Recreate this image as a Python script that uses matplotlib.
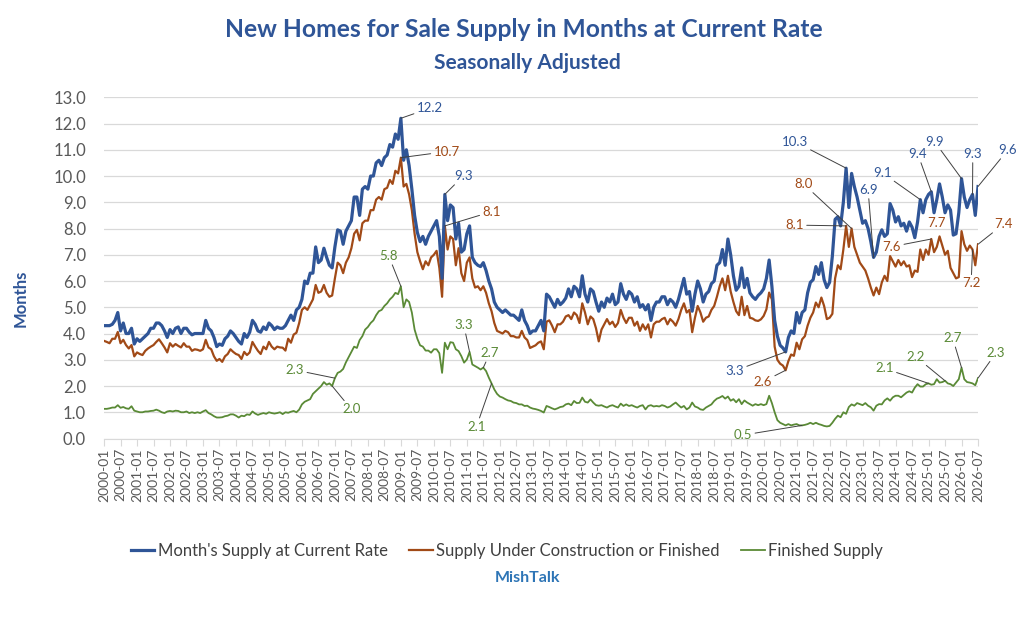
import matplotlib
matplotlib.use('Agg')
import matplotlib.pyplot as plt
import numpy as np
import pandas as pd

plt.rcParams['font.family'] = ['Lato', 'DejaVu Sans']

# monthly values, 2000-01 .. 2026-07 (one row per year)
supply_total = [
    4.3, 4.3, 4.3, 4.35, 4.5, 4.8, 4.1, 4.4, 4.0, 4.0, 4.2, 3.6,
    3.8, 3.7, 3.8, 3.9, 4.0, 4.2, 4.2, 4.4, 4.4, 4.3, 4.1, 3.85,
    4.15, 4.0, 4.2, 4.25, 4.0, 4.2, 4.2, 4.05, 3.95, 4.0, 4.0, 4.0,
    4.0, 4.5, 4.2, 4.1, 3.85, 3.5, 3.6, 3.55, 3.8, 3.9, 4.1, 4.0,
    3.85, 3.7, 3.6, 4.0, 3.85, 4.05, 4.5, 4.35, 4.1, 4.05, 4.25, 4.15,
    4.4, 4.3, 4.15, 4.25, 4.2, 4.2, 4.3, 4.5, 4.7, 4.5, 4.9, 5.0,
    5.3, 6.0, 5.9, 6.3, 6.3, 7.3, 6.7, 6.8, 7.25, 6.9, 6.6, 6.5,
    7.3, 7.95, 7.9, 7.4, 7.9, 8.1, 8.3, 9.2, 9.2, 8.5, 9.5, 9.6,
    9.5, 10.0, 10.0, 10.5, 10.6, 10.4, 10.7, 10.8, 11.2, 11.1, 11.6, 11.4,
    12.2, 10.6, 11.0, 10.4, 9.5, 8.5, 7.85, 7.5, 7.7, 7.4, 7.7, 7.9,
    8.1, 8.3, 7.7, 6.1, 9.3, 8.3, 8.9, 8.8, 7.6, 8.2, 7.1, 7.2,
    7.8, 8.1, 6.9, 6.7, 6.6, 6.55, 6.7, 6.4, 6.0, 5.7, 5.2, 5.0,
    4.9, 4.8, 4.9, 4.8, 4.7, 4.7, 4.6, 4.5, 4.9, 4.5, 4.3, 4.0,
    4.1, 4.1, 4.3, 4.5, 4.1, 5.5, 5.4, 5.2, 5.0, 5.3, 5.1, 5.2,
    5.35, 5.7, 5.4, 5.8, 5.7, 5.4, 6.2, 5.5, 5.2, 5.7, 5.6, 5.2,
    4.85, 5.2, 5.0, 5.35, 5.2, 5.5, 5.1, 5.2, 5.9, 5.5, 5.3, 5.6,
    5.5, 5.2, 5.4, 5.0, 5.1, 4.9, 5.1, 4.5, 5.0, 5.2, 5.2, 5.4,
    5.4, 5.1, 5.3, 5.2, 5.0, 5.3, 5.7, 6.1, 5.5, 5.6, 4.85, 5.5,
    6.0, 5.7, 5.2, 5.5, 5.6, 5.9, 6.0, 6.6, 6.7, 7.2, 6.6, 7.6,
    7.0, 6.2, 5.65, 5.8, 6.5, 5.75, 6.1, 5.55, 5.4, 5.3, 5.45, 5.55,
    5.7, 6.1, 6.8, 5.8, 4.5, 3.9, 3.55, 3.45, 3.3, 3.85, 4.1, 4.0,
    4.8, 4.4, 4.8, 4.9, 5.55, 5.95, 6.05, 6.55, 6.25, 6.7, 6.05, 5.75,
    5.95, 6.95, 8.35, 8.45, 8.1, 9.0, 10.3, 8.8, 10.1, 9.6, 9.2, 8.7,
    8.2, 8.3, 8.0, 7.5, 6.9, 7.1, 7.7, 7.95, 7.7, 7.8, 8.95, 8.7,
    8.25, 8.45, 8.1, 8.2, 7.9, 8.25, 8.05, 7.65, 8.25, 9.1, 8.6, 9.1,
    9.3, 9.4, 8.6, 9.1, 9.7, 9.2, 8.6, 8.9, 8.7, 7.75, 7.8, 8.6,
    9.9, 9.2, 8.8, 9.1, 9.3, 8.5, 9.6,
]

supply_uc_finished = [
    3.72, 3.68, 3.63, 3.8, 3.8, 4.06, 3.63, 3.76, 3.56, 3.43, 3.56, 3.13,
    3.28, 3.22, 3.18, 3.34, 3.43, 3.5, 3.56, 3.68, 3.78, 3.63, 3.47, 3.28,
    3.63, 3.5, 3.6, 3.53, 3.47, 3.63, 3.5, 3.5, 3.34, 3.4, 3.38, 3.34,
    3.4, 3.76, 3.47, 3.4, 3.13, 2.96, 3.03, 2.92, 3.13, 3.22, 3.4, 3.3,
    3.22, 3.18, 3.03, 3.3, 3.18, 3.28, 3.68, 3.5, 3.34, 3.22, 3.5, 3.4,
    3.68, 3.5, 3.4, 3.5, 3.47, 3.46, 3.35, 3.8, 3.65, 3.96, 4.03, 4.4,
    4.9, 5.0, 4.9, 5.1, 5.3, 5.85, 5.55, 5.6, 5.85, 5.55, 5.4, 5.45,
    6.1, 6.7, 6.6, 6.3, 6.7, 6.9, 7.25, 7.8, 7.95, 7.55, 8.2, 8.3,
    8.3, 8.7, 8.7, 9.1, 9.2, 9.1, 9.5, 9.55, 9.85, 9.7, 10.2, 10.1,
    10.7, 9.6, 9.7, 9.3, 8.7, 7.8, 7.1, 6.75, 6.45, 6.75, 6.6, 6.9,
    7.0, 7.15, 6.5, 5.4, 8.1, 7.2, 7.7, 7.6, 6.6, 7.25, 6.3, 6.0,
    6.7, 6.9, 6.1, 5.75, 5.8, 5.65, 5.8, 5.55, 5.15, 4.85, 4.4, 4.1,
    4.05, 4.0, 4.1, 4.05, 3.9, 3.9, 3.85, 3.85, 4.1, 3.85, 3.75, 3.45,
    3.5, 3.55, 3.65, 3.7, 3.4, 4.45, 4.5, 4.3, 4.05, 4.35, 4.35, 4.45,
    4.65, 4.7, 4.55, 4.8, 4.7, 4.4, 5.15, 4.8, 4.35, 4.65, 4.55, 4.2,
    3.7, 4.15, 4.35, 4.55, 4.35, 4.45, 4.25, 4.4, 4.9, 4.6, 4.4, 4.6,
    4.6, 4.3, 4.45, 4.1, 4.35, 4.15, 4.35, 3.85, 4.35, 4.45, 4.45, 4.55,
    4.6, 4.35, 4.55, 4.45, 4.3, 4.55, 4.9, 5.15, 4.8, 4.9, 4.05, 4.6,
    5.05, 4.8, 4.45, 4.6, 4.65, 4.9, 5.05, 5.4, 5.8, 6.1, 5.65, 6.2,
    5.6, 5.2, 4.85, 4.7, 5.4, 4.7, 5.05, 4.6, 4.57, 4.5, 4.48, 4.54,
    4.67, 4.92, 5.56, 5.3, 3.5, 3.0, 2.85, 2.78, 2.6, 2.95, 3.2, 3.15,
    3.65, 3.4, 3.78, 3.9, 4.3, 4.6, 4.8, 5.18, 5.0, 5.37, 5.05, 4.55,
    4.6, 4.75, 6.1, 6.6, 6.45, 7.2, 8.1, 7.3, 8.0, 7.3, 7.0, 6.7,
    6.55, 6.4, 6.1, 5.75, 5.45, 5.75, 5.5, 5.95, 6.2, 6.0, 6.95, 6.75,
    6.55, 6.8, 6.6, 6.75, 6.55, 6.6, 6.15, 6.4, 6.35, 7.2, 6.8, 7.2,
    7.0, 7.6, 7.1, 7.3, 7.7, 7.35, 7.0, 7.15, 6.5, 6.3, 6.1, 6.15,
    7.9, 7.4, 7.15, 7.35, 7.2, 6.6, 7.4,
]

supply_finished = [
    1.13, 1.13, 1.15, 1.18, 1.18, 1.27, 1.17, 1.2, 1.15, 1.13, 1.23, 1.06,
    1.03, 1.0, 1.0, 1.03, 1.03, 1.05, 1.06, 1.1, 1.06, 1.0, 0.97, 1.03,
    1.05, 1.03, 1.06, 1.05, 1.0, 1.0, 1.03, 0.97, 1.0, 0.97, 1.0, 0.97,
    1.03, 1.08, 0.97, 0.92, 0.85, 0.8, 0.8, 0.81, 0.85, 0.87, 0.92, 0.92,
    0.87, 0.8, 0.87, 0.85, 0.92, 0.9, 1.03, 0.95, 0.9, 0.94, 0.97, 0.94,
    1.0, 0.97, 0.95, 0.97, 1.0, 0.93, 1.0, 0.98, 1.02, 1.05, 1.0, 1.1,
    1.3, 1.4, 1.45, 1.5, 1.7, 1.8, 1.9, 2.0, 2.15, 2.05, 2.1, 2.0,
    2.3, 2.5, 2.55, 2.65, 2.9, 3.1, 3.3, 3.5, 3.45, 3.75, 3.9, 4.15,
    4.25, 4.4, 4.5, 4.7, 4.85, 4.9, 5.05, 5.15, 5.3, 5.4, 5.55, 5.5,
    5.8, 5.0, 5.3, 5.2, 4.8, 4.15, 3.8, 3.55, 3.5, 3.35, 3.35, 3.27,
    3.4, 3.4, 3.25, 2.5, 3.65, 3.4, 3.67, 3.65, 3.4, 3.33, 3.14, 2.89,
    3.01, 3.3, 2.82, 2.76, 2.7, 2.63, 2.7, 2.57, 2.32, 2.1, 1.87, 1.7,
    1.6, 1.56, 1.5, 1.45, 1.43, 1.37, 1.35, 1.3, 1.3, 1.24, 1.25, 1.18,
    1.14, 1.12, 1.09, 1.05, 0.99, 1.24, 1.2, 1.15, 1.11, 1.15, 1.2, 1.22,
    1.3, 1.33, 1.27, 1.43, 1.35, 1.36, 1.56, 1.4, 1.37, 1.49, 1.37, 1.27,
    1.25, 1.27, 1.22, 1.18, 1.24, 1.27, 1.22, 1.18, 1.33, 1.24, 1.3, 1.24,
    1.27, 1.22, 1.18, 1.24, 1.27, 1.11, 1.24, 1.27, 1.22, 1.24, 1.22, 1.27,
    1.24, 1.18, 1.22, 1.3, 1.37, 1.27, 1.18, 1.24, 1.11, 1.18, 1.37, 1.22,
    1.18, 1.11, 1.09, 1.18, 1.24, 1.3, 1.43, 1.52, 1.56, 1.62, 1.52, 1.6,
    1.44, 1.5, 1.38, 1.5, 1.31, 1.45, 1.37, 1.31, 1.25, 1.31, 1.27, 1.31,
    1.27, 1.31, 1.63, 1.35, 1.0, 0.7, 0.6, 0.55, 0.5, 0.55, 0.5, 0.53,
    0.55, 0.5, 0.5, 0.52, 0.55, 0.6, 0.55, 0.6, 0.55, 0.52, 0.48, 0.46,
    0.48, 0.6, 0.75, 0.87, 0.81, 1.0, 0.94, 1.2, 1.3, 1.25, 1.35, 1.31,
    1.27, 1.35, 1.25, 1.19, 1.06, 1.25, 1.31, 1.3, 1.45, 1.53, 1.44, 1.57,
    1.63, 1.63, 1.57, 1.66, 1.75, 1.8, 1.75, 1.94, 2.07, 1.98, 1.98, 2.07,
    2.1, 2.05, 2.07, 2.26, 2.13, 2.15, 2.2, 2.1, 2.07, 2.0, 2.13, 2.26,
    2.7, 2.26, 2.15, 2.13, 2.1, 2.03, 2.3,
]

series_names = ["Month's Supply at Current Rate",
                "Supply Under Construction or Finished",
                "Finished Supply"]

BLUE = '#2F5597'
ORANGE = '#A14A17'
GREEN = '#5A8A36'

months = pd.period_range('2000-01', periods=len(supply_total), freq='M').strftime('%Y-%m')
x = np.arange(len(months))

fig = plt.figure(figsize=(10.24, 6.26), dpi=100)
ax = fig.add_axes([0.1016, 0.2995, 0.8535, 0.5451])

ax.plot(x, supply_total, color=BLUE, lw=2.3, label=series_names[0], zorder=4)
ax.plot(x, supply_uc_finished, color=ORANGE, lw=1.6, label=series_names[1], zorder=3)
ax.plot(x, supply_finished, color=GREEN, lw=1.3, label=series_names[2], zorder=3)

ax.set_xlim(0, len(x) - 1)
ax.set_ylim(0, 13)
yt = np.arange(0, 14)
ax.set_yticks(yt)
ax.set_yticklabels(['%.1f' % v for v in yt])
ax.set_xticks(x[::6])
ax.set_xticklabels(months[::6], rotation=90)

ax.grid(axis='y', color='#D9D9D9', lw=0.9, zorder=0)
ax.set_axisbelow(True)
for s in ['top', 'right', 'left']:
    ax.spines[s].set_visible(False)
ax.spines['bottom'].set_color('#D9D9D9')
ax.tick_params(axis='y', length=0, pad=13, labelsize=12, labelcolor='#595959')
ax.tick_params(axis='x', length=5, color='#D9D9D9', pad=2, labelsize=10, labelcolor='#595959')

# data labels: (series, month index, label x, label y, leader line)
label_layout = [
    (0, 108, 118.5, 12.58, True),
    (0, 124, 130.7, 10.0, True),
    (0, 248, 229.5, 2.58, True),
    (0, 270, 251.3, 11.31, True),
    (0, 280, 278.0, 9.47, True),
    (0, 297, 283.1, 10.13, True),
    (0, 301, 296.1, 10.84, True),
    (0, 312, 302.2, 11.31, True),
    (0, 316, 316.1, 10.84, True),
    (0, 318, 328.8, 10.99, True),
    (1, 108, 124.6, 10.93, True),
    (1, 124, 141.0, 8.64, True),
    (1, 248, 239.7, 2.16, True),
    (1, 270, 251.3, 8.13, True),
    (1, 272, 254.5, 9.70, True),
    (1, 301, 286.7, 7.31, True),
    (1, 304, 303.0, 8.22, False),
    (1, 316, 315.5, 5.91, True),
    (1, 318, 327.3, 8.17, True),
    (2, 83, 90.0, 1.11, True),
    (2, 84, 69.5, 2.61, True),
    (2, 108, 103.6, 6.95, True),
    (2, 133, 130.9, 4.32, True),
    (2, 138, 140.4, 3.25, True),
    (2, 141, 135.5, 0.45, True),
    (2, 254, 232.5, 0.13, True),
    (2, 300, 284.0, 2.67, True),
    (2, 306, 295.3, 3.12, True),
    (2, 312, 308.8, 3.82, True),
    (2, 318, 324.6, 3.27, True),
]
all_series = [(supply_total, BLUE), (supply_uc_finished, ORANGE), (supply_finished, GREEN)]
for k, i, tx, ty, lead in label_layout:
    vals, col = all_series[k]
    props = dict(arrowstyle='-', color='#404040', lw=0.7, shrinkA=0, shrinkB=0) if lead else None
    ax.annotate('%.1f' % vals[i], xy=(i, vals[i]), xytext=(tx, ty), textcoords='data',
                ha='center', va='center', color=col, fontsize=9.5,
                annotation_clip=False, arrowprops=props, zorder=6)

fig.text(0.512, 0.953, 'New Homes for Sale Supply in Months at Current Rate',
         ha='center', va='center', fontsize=17.7, fontweight='bold', color=BLUE)
fig.text(0.515, 0.899, 'Seasonally Adjusted', ha='center', va='center',
         fontsize=15, fontweight='bold', color=BLUE)
fig.text(0.02, 0.524, 'Months', rotation=90, ha='center', va='center',
         fontsize=12, fontweight='bold', color=BLUE)

fig.legend(loc='center', bbox_to_anchor=(0.495, 0.12), ncol=3, frameon=False,
           fontsize=12, handlelength=1.4, handletextpad=0.2, columnspacing=1.3,
           labelcolor='#404040')
fig.text(0.515, 0.077, 'MishTalk', ha='center', va='center', fontsize=11.5,
         fontweight='bold', color='#2E75B6')

fig.savefig('out.png', dpi=100)
